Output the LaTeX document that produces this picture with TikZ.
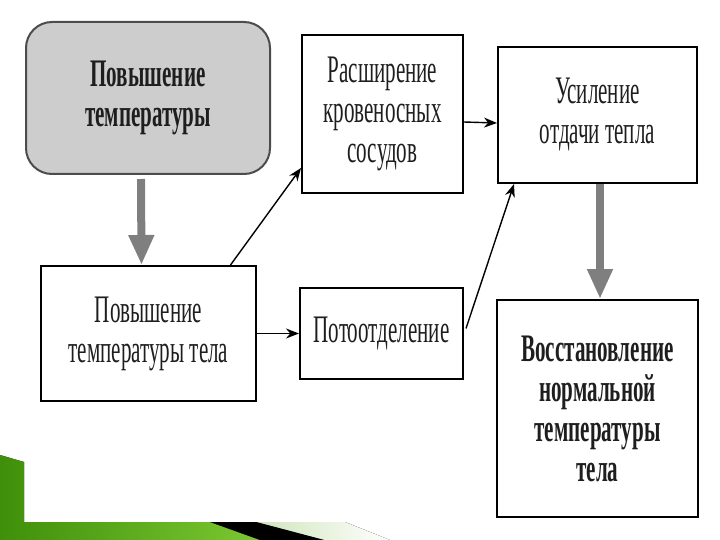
\documentclass[tikz,border=0pt]{standalone}
\usepackage{fontspec}
\setmainfont{Liberation Serif}[FakeStretch=0.54]
\usetikzlibrary{arrows.meta}
\definecolor{txt}{HTML}{1E1E1E}
\definecolor{boxgray}{HTML}{CDCDCD}
\definecolor{arrgray}{HTML}{7F7F7F}
\definecolor{gdark}{HTML}{3F8F0A}
\definecolor{glight}{HTML}{7CC832}
\definecolor{gpale}{HTML}{CFE6BC}
\tikzset{
  txtfont/.style={font=\fontsize{39}{40}\selectfont, text=txt, align=center},
  blk/.style={draw=black, line width=2pt, fill=white, inner sep=0pt, txtfont},
  rbox/.style={draw=black!70, line width=2pt, fill=boxgray, rounded corners=26pt, inner sep=0pt, txtfont},
  bigarr/.style={draw=arrgray, line width=8pt, -{Triangle[length=30pt,width=24pt]}},
  thinarr/.style={draw=black, line width=1.4pt, -{Stealth[length=13pt,width=10pt]}}
}
\begin{document}
\begin{tikzpicture}[x=1pt,y=-1pt]
\useasboundingbox (0,0) rectangle (720,540);
% decoration
\fill[left color=gdark, right color=glight] (0,455) -- (24,462) -- (24,522) -- (210,522) -- (260,540) -- (0,540) -- cycle;
\fill[black] (210,522) -- (257,522) -- (325,540) -- (260,540) -- cycle;
\fill[left color=gpale, right color=white] (257,522) -- (345,522) -- (390,540) -- (325,540) -- cycle;
% boxes
\node[rbox, minimum width=244pt, minimum height=152pt] (b1) at (148,98) {\textbf{Повышение}\\\textbf{температуры}};
\node[blk, minimum width=215pt, minimum height=135pt] (b2) at (148.5,333.5) {Повышение\\температуры тела};
\node[blk, minimum width=161pt, minimum height=158pt] (b3) at (382.5,114) {Расширение\\кровеносных\\сосудов};
\node[blk, minimum width=163pt, minimum height=91pt] (b4) at (381.5,333.5) {Потоотделение};
\node[blk, minimum width=199pt, minimum height=136pt] (b5) at (597.5,115) {Усиление\\отдачи тепла};
\node[blk, minimum width=201pt, minimum height=217pt] (b6) at (597.5,408.5) {\textbf{Восстановление}\\\textbf{нормальной}\\\textbf{температуры}\\\textbf{тела}};
% connectors
\draw[bigarr] ([xshift=-7pt,yshift=-4pt]b1.south) -- ([xshift=-7pt]b2.north);
\draw[bigarr] ([xshift=2.5pt]b5.south) -- ([xshift=2.5pt]b6.north);
\draw[thinarr] (b2.east) -- (b4.west);
\draw[thinarr] ([yshift=-8pt]b3.east) -- ([yshift=-8pt]b5.west);
\draw[thinarr] ([xshift=82pt]b2.north) -- ([yshift=-54pt]b3.west);
\draw[thinarr] ([xshift=2pt,yshift=5pt]b4.east) -- ([xshift=17pt]b5.south west);
\end{tikzpicture}
\end{document}
